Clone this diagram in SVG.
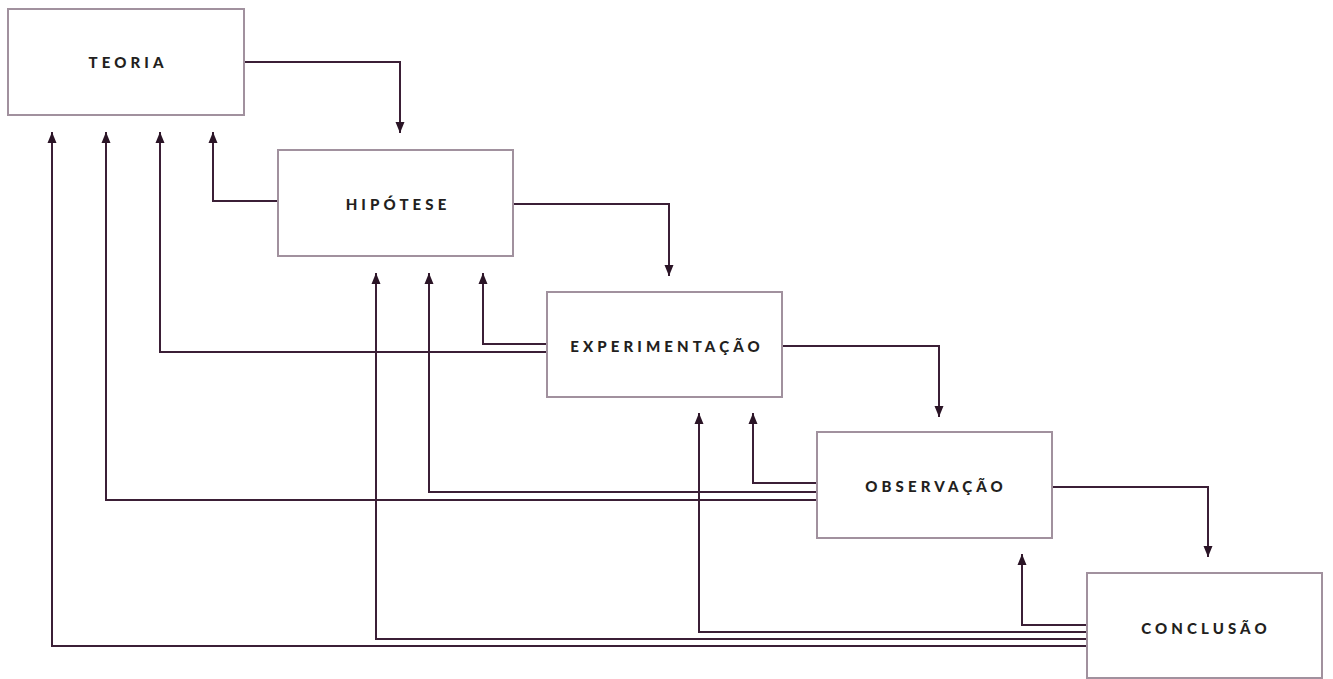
<svg xmlns="http://www.w3.org/2000/svg" width="1333" height="679" viewBox="0 0 1333 679">
<style>
.box{fill:#ffffff;stroke:#a1919e;stroke-width:2}
.lbl{font-family:Lato,"Liberation Sans",sans-serif;font-weight:900;font-size:15px;letter-spacing:4.1px;fill:#231f20;text-anchor:middle}
.ln{fill:none;stroke:#3b1f36;stroke-width:2}
.up{marker-end:url(#au)}
.dn{marker-end:url(#ad)}
</style>
<defs>
<marker id="au" markerUnits="userSpaceOnUse" markerWidth="10" markerHeight="11" viewBox="0 0 10 11" refX="5" refY="0" orient="0">
<path d="M5,0 L9.5,11 L0.5,11 Z" fill="#2a1426"/>
</marker>
<marker id="ad" markerUnits="userSpaceOnUse" markerWidth="10" markerHeight="11" viewBox="0 0 10 11" refX="5" refY="11" orient="0">
<path d="M0.5,0 L9.5,0 L5,11 Z" fill="#2a1426"/>
</marker>
</defs>
<g id="connectors">
<path class="ln dn" d="M244,62 H400 V133"/>
<path class="ln dn" d="M513,204 H669 V276"/>
<path class="ln dn" d="M782,346 H939 V417"/>
<path class="ln dn" d="M1052,487 H1208 V557"/>
<path class="ln up" d="M278,201 H213 V132"/>
<path class="ln up" d="M547,344 H483 V273"/>
<path class="ln up" d="M547,352 H160 V132"/>
<path class="ln up" d="M817,483 H753 V413"/>
<path class="ln up" d="M817,492 H429 V273"/>
<path class="ln up" d="M817,500 H106 V132"/>
<path class="ln up" d="M1087,625 H1022 V554"/>
<path class="ln up" d="M1087,632 H699 V413"/>
<path class="ln up" d="M1087,639 H376 V273"/>
<path class="ln up" d="M1087,646 H52 V132"/>
</g>
<g id="teoria">
<rect class="box" x="8" y="9" width="236" height="106"/>
<text class="lbl" x="128" y="68">TEORIA</text>
</g>
<g id="hipotese">
<rect class="box" x="278" y="150" width="235" height="106"/>
<text class="lbl" x="398" y="210">HIPÓTESE</text>
</g>
<g id="experimentacao">
<rect class="box" x="547" y="292" width="235" height="105"/>
<text class="lbl" x="667" y="352">EXPERIMENTAÇÃO</text>
</g>
<g id="observacao">
<rect class="box" x="817" y="432" width="235" height="106"/>
<text class="lbl" x="936" y="492">OBSERVAÇÃO</text>
</g>
<g id="conclusao">
<rect class="box" x="1087" y="573" width="235" height="105"/>
<text class="lbl" x="1206" y="634">CONCLUSÃO</text>
</g>
</svg>
